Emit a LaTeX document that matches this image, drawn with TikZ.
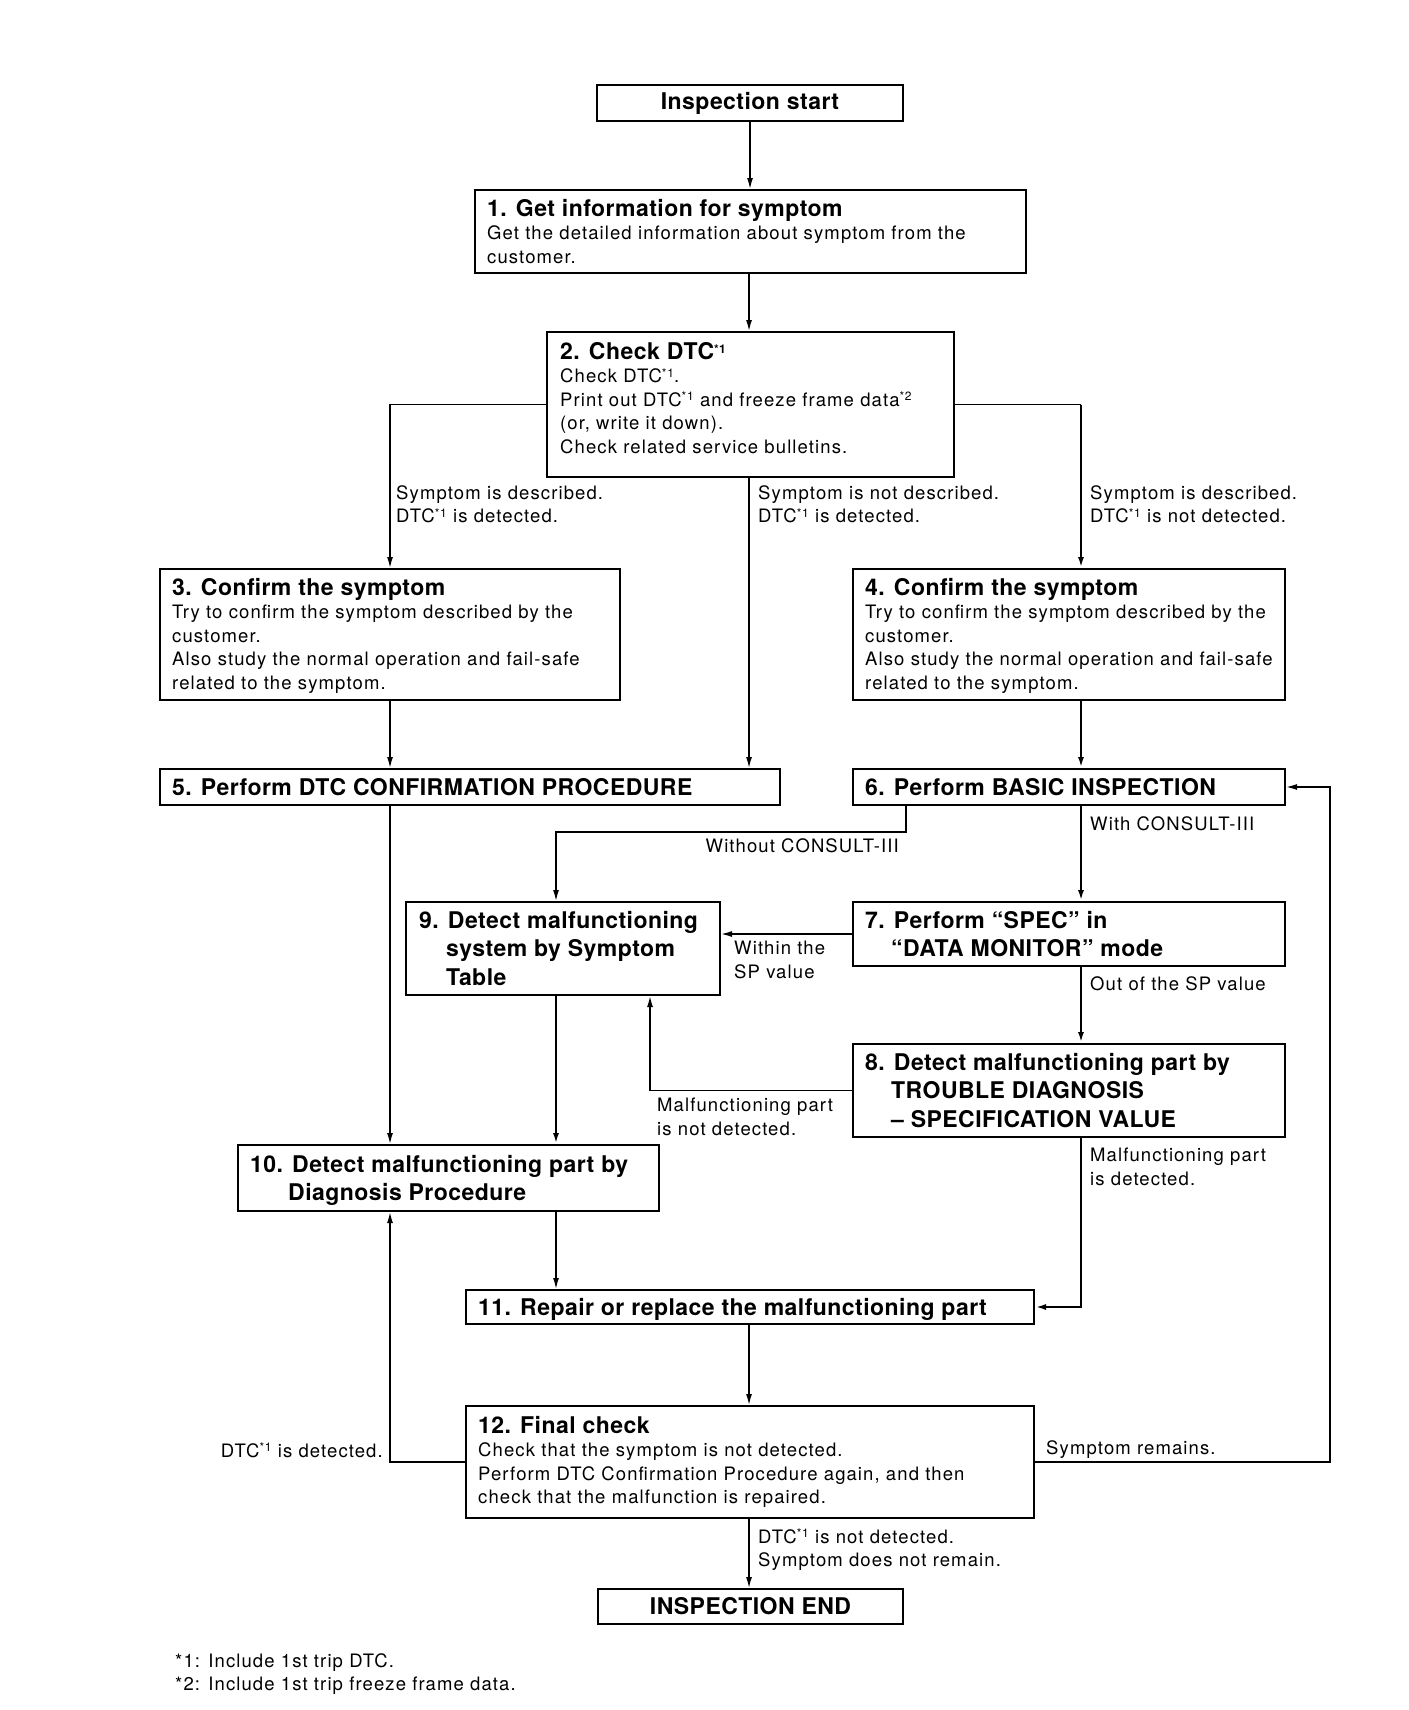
\documentclass[tikz,border=0pt]{standalone}
\usepackage{fontspec}
\setmainfont{TeX Gyre Heros}
\newfontfamily\bodyfont{TeX Gyre Heros}[LetterSpace=6]
\newfontfamily\headfont{TeX Gyre Heros}[LetterSpace=2]
\usetikzlibrary{arrows.meta}
\tikzset{flowbox/.style 2 args={draw, line width=2pt, anchor=north west, inner sep=0pt, minimum width=#1, minimum height=#2}}
\tikzset{boxtext/.style={align=left, inner sep=0pt, anchor=north west}}
\tikzset{termtext/.style={inner sep=0pt, font=\headfont\bfseries\fontsize{23}{23}\selectfont}}
\tikzset{conn/.style={line width=1.4pt, -{Latex[length=11pt, width=6pt]}}}
\tikzset{heavy/.style={conn, line width=2.6pt}}
\newcommand{\hd}[1]{{\headfont\bfseries\fontsize{23}{23}\selectfont #1}}
\newcommand{\mk}[1]{{\fontsize{12}{12}\selectfont\raisebox{5.5pt}{*#1}}}
\begin{document}
\begin{tikzpicture}[x=1pt, y=-1pt, font={\bodyfont\fontsize{18.5}{23.5}\selectfont}]
\useasboundingbox (0,0) rectangle (1408,1710);
% columns of the connectors
\coordinate (lcol) at (390,0);
\coordinate (mcol) at (556,0);
\coordinate (ccol) at (749,0);
\coordinate (ucol) at (650,0);
\coordinate (rcol) at (1081,0);
\coordinate (wcol) at (906,832);
\coordinate (loop) at (1330,0);

% boxes
\node[flowbox={306pt}{36pt}] (start) at (596,84) {};
\node[termtext] (tstart) at (start) {Inspection start};
\node[flowbox={551pt}{83pt}] (s1) at (474,189) {};
\node[boxtext] (t1) at ([shift={(13,10)}]s1.north west) {\hd{1. Get information for symptom}\\Get the detailed information about symptom from the\\customer.};
\node[flowbox={407pt}{145pt}] (s2) at (546,331) {};
\node[boxtext] (t2) at ([shift={(14,11)}]s2.north west) {\hd{2. Check DTC\mk{1}}\\Check DTC\mk{1}.\\Print out DTC\mk{1} and freeze frame data\mk{2}\\(or, write it down).\\Check related service bulletins.};
\node[flowbox={460pt}{131pt}] (s3) at (159,568) {};
\node[boxtext] (t3) at ([shift={(13,10)}]s3.north west) {\hd{3. Confirm the symptom}\\Try to confirm the symptom described by the\\customer.\\Also study the normal operation and fail-safe\\related to the symptom.};
\node[flowbox={432pt}{131pt}] (s4) at (852,568) {};
\node[boxtext] (t4) at ([shift={(13,10)}]s4.north west) {\hd{4. Confirm the symptom}\\Try to confirm the symptom described by the\\customer.\\Also study the normal operation and fail-safe\\related to the symptom.};
\node[flowbox={620pt}{36pt}] (s5) at (159,768) {};
\node[boxtext] (t5) at ([shift={(13,10)}]s5.north west) {\hd{5. Perform DTC CONFIRMATION PROCEDURE}};
\node[flowbox={432pt}{36pt}] (s6) at (852,768) {};
\node[boxtext] (t6) at ([shift={(13,10)}]s6.north west) {\hd{6. Perform BASIC INSPECTION}};
\node[flowbox={432pt}{64pt}] (s7) at (852,901) {};
\node[boxtext] (t7) at ([shift={(13,10)}]s7.north west) {\hd{7. Perform “SPEC” in}\\[5pt]\hd{\hspace*{26pt}“DATA MONITOR” mode}};
\node[flowbox={432pt}{93pt}] (s8) at (852,1043) {};
\node[boxtext] (t8) at ([shift={(13,10)}]s8.north west) {\hd{8. Detect malfunctioning part by}\\[5pt]\hd{\hspace*{26pt}TROUBLE DIAGNOSIS}\\[5pt]\hd{\hspace*{26pt}– SPECIFICATION VALUE}};
\node[flowbox={314pt}{93pt}] (s9) at (405,901) {};
\node[boxtext] (t9) at ([shift={(14,10)}]s9.north west) {\hd{9. Detect malfunctioning}\\[5pt]\hd{\hspace*{27pt}system by Symptom}\\[5pt]\hd{\hspace*{27pt}Table}};
\node[flowbox={421pt}{66pt}] (s10) at (237,1144) {};
\node[boxtext] (t10) at ([shift={(13,11)}]s10.north west) {\hd{10. Detect malfunctioning part by}\\[5pt]\hd{\hspace*{38pt}Diagnosis Procedure}};
\node[flowbox={568pt}{34pt}] (s11) at (465,1289) {};
\node[boxtext] (t11) at ([shift={(13,9)}]s11.north west) {\hd{11. Repair or replace the malfunctioning part}};
\node[flowbox={568pt}{112pt}] (s12) at (465,1405) {};
\node[boxtext] (t12) at ([shift={(13,11)}]s12.north west) {\hd{12. Final check}\\Check that the symptom is not detected.\\Perform DTC Confirmation Procedure again, and then\\check that the malfunction is repaired.};
\node[flowbox={305pt}{35pt}] (fin) at (597,1588) {};
\node[termtext] (tfin) at (fin) {INSPECTION END};

% connectors
\draw[conn] (start.south) -- (start.south |- s1.north);
\draw[conn] (s1.south -| ccol) -- (s2.north -| ccol);
\draw[conn] (s2.west) -| (s3.north -| lcol);
\draw[line width=1.4pt] (s2.east) -- (s2.east -| rcol);
\draw[heavy] (s2.east -| rcol) -- (s4.north -| rcol);
\draw[conn] (s2.south -| ccol) -- (s5.north -| ccol);
\draw[conn] (s3.south -| lcol) -- (s5.north -| lcol);
\draw[heavy] (s4.south -| rcol) -- (s6.north -| rcol);
\draw[conn] (s5.south -| lcol) -- (s10.north -| lcol);
\draw[conn] (s6.south -| wcol) -- (wcol) -| (s9.north -| mcol);
\draw[heavy] (s6.south -| rcol) -- (s7.north -| rcol);
\draw[conn] (s7.west) -- (s7.west -| s9.east);
\draw[heavy] (s7.south -| rcol) -- (s8.north -| rcol);
\draw[conn] (s8.west) -| (s9.south -| ucol);
\draw[heavy] (s9.south -| mcol) -- (s10.north -| mcol);
\draw[conn] (s10.south -| mcol) -- (s11.north -| mcol);
\draw[heavy] (s8.south -| rcol) |- (s11.east);
\draw[conn] (s11.south -| ccol) -- (s12.north -| ccol);
\draw[conn] (s12.west) -| (s10.south -| lcol);
\draw[conn] (s12.east) -| (s6.east -| loop) -- (s6.east);
\draw[conn] (s12.south -| ccol) -- (fin.north -| ccol);

% labels
\node[boxtext] (ldesc) at (396,485) {Symptom is described.\\DTC\mk{1} is detected.};
\node[boxtext] (lnodesc) at (758,485) {Symptom is not described.\\DTC\mk{1} is detected.};
\node[boxtext] (lnodtc) at (1090,485) {Symptom is described.\\DTC\mk{1} is not detected.};
\node[boxtext, anchor=north east] (lwo) at (899,838) {Without CONSULT-III};
\node[boxtext] (lwith) at (1090,816) {With CONSULT-III};
\node[boxtext] (lwithin) at (734,941) {Within the\\SP value};
\node[boxtext] (lout) at (1090,976) {Out of the SP value};
\node[boxtext] (lnotfound) at (657,1098) {Malfunctioning part\\is not detected.};
\node[boxtext] (lfound) at (1090,1148) {Malfunctioning part\\is detected.};
\node[boxtext, anchor=north east] (lagain) at (383,1443) {DTC\mk{1} is detected.};
\node[boxtext] (lremain) at (1046,1440) {Symptom remains.};
\node[boxtext] (lok) at (758,1529) {DTC\mk{1} is not detected.\\Symptom does not remain.};
\node[boxtext] (notes) at (175,1653) {*1: Include 1st trip DTC.\\*2: Include 1st trip freeze frame data.};
\end{tikzpicture}
\end{document}
